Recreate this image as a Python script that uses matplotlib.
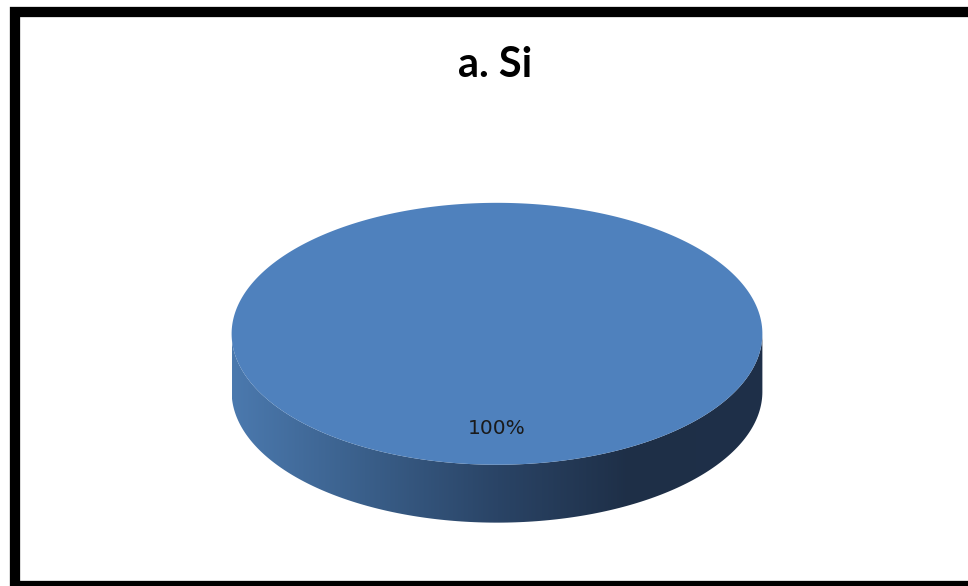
import numpy as np
import matplotlib.pyplot as plt
from matplotlib.patches import Polygon, Rectangle
from matplotlib.colors import LinearSegmentedColormap

# data
title = "a. Si"
categories = ["a. Si"]
values = [100]
colors = ["#4f81bd"]

# 3d look of the pie
tilt = 0.493
depth = 0.218
label_r = 0.72

fig = plt.figure(figsize=(9.68, 5.86), dpi=100)
fig.patch.set_facecolor("white")

# axes placed where the pie sits, in figure fractions
ax = fig.add_axes([221 / 968, 1 - 533 / 586, 552 / 968, 340 / 586])
ax.set_xlim(-1.04, 1.04)
ax.set_ylim(-0.75, 0.53)
ax.axis("off")

total = float(sum(values))
start = 90.0
side_cmap = LinearSegmentedColormap.from_list(
    "side", ["#4b79ae", "#3a5f8a", "#2a4466", "#1e2f47", "#1f3049"])

for cat, val, col in zip(categories, values, colors):
    sweep = 360.0 * val / total
    t = np.radians(np.linspace(start, start - sweep, 400))
    ex, ey = np.cos(t), tilt * np.sin(t)

    # side wall, only the front half is visible
    front = np.sin(t) <= 0
    if front.any():
        fx, fy = ex[front], ey[front]
        order = np.argsort(fx)
        fx, fy = fx[order], fy[order]
        pts = np.concatenate([np.c_[fx, fy], np.c_[fx[::-1], fy[::-1] - depth]])
        side = Polygon(pts, closed=True, facecolor="none", edgecolor="none")
        ax.add_patch(side)
        grad = np.linspace(0, 1, 256).reshape(1, -1)
        im = ax.imshow(grad, cmap=side_cmap, aspect="auto",
                       extent=(fx.min(), fx.max(), -tilt - depth, 0.0),
                       interpolation="bilinear", zorder=1)
        im.set_clip_path(side)

    # top face
    if sweep >= 359.999:
        top_pts = np.c_[ex, ey]
    else:
        top_pts = np.vstack([[0, 0], np.c_[ex, ey]])
    ax.add_patch(Polygon(top_pts, closed=True, facecolor=col,
                         edgecolor="none", zorder=2))

    mid = np.radians(start - sweep / 2)
    ax.text(label_r * np.cos(mid), label_r * tilt * np.sin(mid),
            f"{val / total * 100:.0f}%", ha="center", va="center",
            fontsize=14.5, color="#1a1a1a", zorder=3)
    start -= sweep

ax.set_xlim(-1.04, 1.04)
ax.set_ylim(-0.75, 0.53)

fig.text(495 / 968, 1 - 77 / 586, title, ha="center", va="baseline",
         fontsize=30, fontweight="bold", family=["Lato", "DejaVu Sans"])

# thick black frame around the chart
fig.patches.append(Rectangle((14.5 / 968, 0.0), 1.0, 1 - 11.5 / 586,
                             transform=fig.transFigure, fill=False,
                             edgecolor="black", linewidth=7.4))

fig.savefig("out.png", dpi=100, facecolor="white")
